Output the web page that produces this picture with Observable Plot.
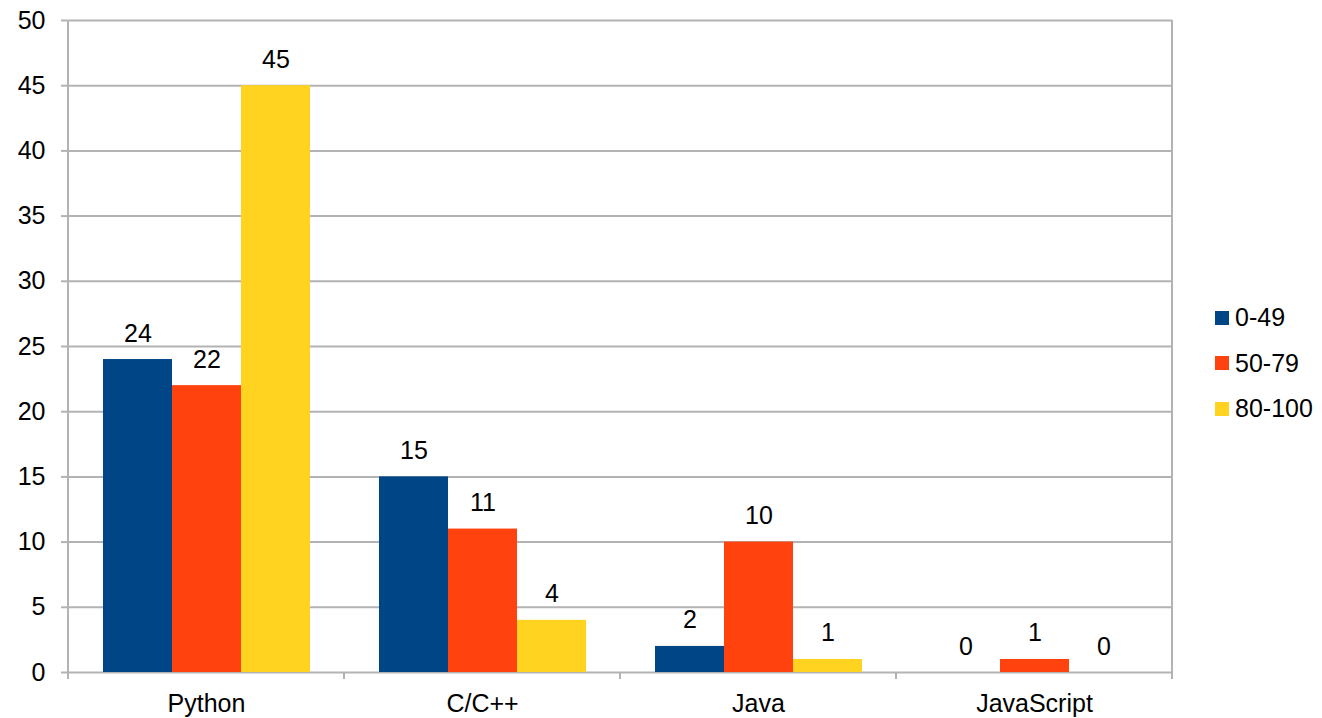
<!DOCTYPE html>
<html>
<head>
<meta charset="utf-8">
<script src="https://cdn.jsdelivr.net/npm/d3@7"></script>
<script src="https://cdn.jsdelivr.net/npm/@observablehq/plot@0.6"></script>
<style>
  html, body { margin: 0; padding: 0; background: #fff; }
  #wrap { position: relative; width: 1322px; height: 718px; font-family: "Liberation Sans", Arial, sans-serif; }
  #legend { position: absolute; left: 1215px; top: 295px; }
  .item { display: flex; align-items: center; height: 45.5px; font-size: 25px; color: #000; }
  .sw { width: 14px; height: 14px; margin-right: 6px; }
</style>
</head>
<body>
<div id="wrap"><div id="legend"></div></div>
<script>
// Languages on the x axis and the score bands shown for each
const categories = ["Python", "C/C++", "Java", "JavaScript"];
const series = ["0-49", "50-79", "80-100"];
const colors = ["#004586", "#ff420e", "#ffd320"];

// Counts per score band, in category order
const band0to49 = [24, 15, 2, 0];
const band50to79 = [22, 11, 10, 1];
const band80to100 = [45, 4, 1, 0];

const yTicks = [0, 5, 10, 15, 20, 25, 30, 35, 40, 45, 50];

const bandValues = [band0to49, band50to79, band80to100];
const rows = [];
categories.forEach((category, i) => {
  series.forEach((s, j) => rows.push({category, series: s, value: bandValues[j][i]}));
});

const gridColor = "#b3b3b3";

const plot = Plot.plot({
  width: 1322,
  height: 718,
  marginLeft: 67,
  marginRight: 149,
  marginTop: 20,
  marginBottom: 46,
  style: {fontFamily: "'Liberation Sans', Arial, sans-serif", fontSize: "25px", color: "#000", background: "#fff"},
  fx: {domain: categories, padding: 0, label: null},
  x: {domain: series, paddingInner: 0, paddingOuter: 0.5, axis: null},
  y: {domain: [0, 50], label: null},
  color: {domain: series, range: colors},
  marks: [
    Plot.gridY(yTicks, {stroke: gridColor, strokeOpacity: 1, strokeWidth: 2}),
    Plot.barY(rows, {fx: "category", x: "series", y: "value", fill: "series"}),
    Plot.text(rows, {fx: "category", x: "series", y: "value", text: d => String(d.value), dy: -26, fill: "#000", fontSize: 25}),
    Plot.axisY(yTicks, {tickSize: 7, tickPadding: 16, stroke: gridColor, strokeWidth: 2, fill: "#000", fontSize: 25, label: null}),
    Plot.axisFx({anchor: "bottom", tickSize: 0, tickPadding: 22, fontSize: 25, fill: "#000", label: null})
  ]
});

document.getElementById("wrap").prepend(plot);

// Axis frame: left and right edges plus ticks at the category boundaries
const fxScale = plot.scale("fx");
const yScale = plot.scale("y");
const fxBand = d3.scaleBand(fxScale.domain, fxScale.range).padding(0);
const fxAt = c => (fxScale.apply ? fxScale.apply(c) : fxBand(c));
const bw = fxScale.bandwidth ?? fxBand.bandwidth();
const yAt = v => (yScale.apply ? yScale.apply(v) : d3.scaleLinear(yScale.domain, yScale.range)(v));
const edges = categories.map(fxAt).concat([fxAt(categories[categories.length - 1]) + bw]);
const y0 = yAt(0), yTop = yAt(50);
const g = d3.select(plot).append("g").attr("stroke", gridColor).attr("stroke-width", 2);
edges.forEach((x, i) => {
  const full = i === 0 || i === edges.length - 1;
  g.append("line").attr("x1", x).attr("x2", x).attr("y1", full ? yTop : y0).attr("y2", y0 + 7);
});

// Legend
const legend = d3.select("#legend");
series.forEach((s, i) => {
  const item = legend.append("div").attr("class", "item");
  item.append("div").attr("class", "sw").style("background", colors[i]);
  item.append("span").text(s);
});
</script>
</body>
</html>
